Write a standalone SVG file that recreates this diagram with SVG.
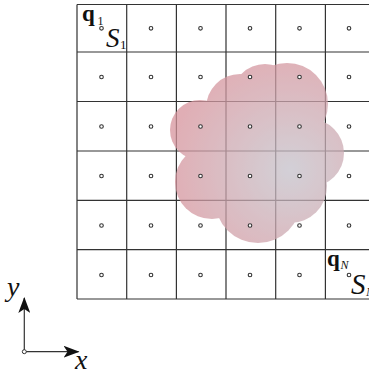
<svg xmlns="http://www.w3.org/2000/svg" width="369" height="376" viewBox="0 0 369 376">
<defs>
<style>
.grid{stroke:#333;stroke-width:1.2;fill:none}
.dot{fill:#fff;stroke:#333;stroke-width:1.1}
.lbl{font-family:"Liberation Serif",serif;fill:#111}
.b{font-weight:bold}
.i{font-style:italic}
.ax{stroke:#333;stroke-width:1.2;fill:none}
</style>
<radialGradient id="cg" gradientUnits="userSpaceOnUse" cx="290" cy="170" r="120">
<stop offset="0" stop-color="#c4c0ca"/>
<stop offset="0.3" stop-color="#c9b3bb"/>
<stop offset="1" stop-color="#d6939c"/>
</radialGradient>
<marker id="ah" viewBox="0 0 16 12" refX="15" refY="6" markerWidth="16" markerHeight="12" markerUnits="userSpaceOnUse" orient="auto">
<path d="M0,0 L16,6 L0,12 L4,6 Z" fill="#111"/>
</marker>
</defs>
<g id="grid" class="grid">
<path d="M77,4.5 H369 M77,52 H369 M77,101.5 H369 M77,151 H369 M77,200.3 H369 M77,249.6 H369 M77,299 H369"/>
<path d="M77,4.5 V299 M126.7,4.5 V299 M176.4,4.5 V299 M226,4.5 V299 M275.7,4.5 V299 M325.4,4.5 V299"/>
</g>
<g id="cloud" opacity="0.74" fill="url(#cg)">
<circle cx="265" cy="150" r="55"/>
<circle cx="287" cy="104" r="41"/>
<circle cx="265" cy="97" r="33"/>
<circle cx="240" cy="108" r="34"/>
<circle cx="200" cy="130" r="30"/>
<circle cx="212" cy="182" r="37"/>
<circle cx="258" cy="200" r="43"/>
<circle cx="290" cy="186" r="37"/>
<circle cx="310" cy="153" r="34"/>
</g>
<g id="points">
<g class="dot">
<circle cx="101.5" cy="28.3" r="1.8"/><circle cx="151" cy="28.3" r="1.8"/><circle cx="200.5" cy="28.3" r="1.8"/><circle cx="250" cy="28.3" r="1.8"/><circle cx="299.5" cy="28.3" r="1.8"/><circle cx="349" cy="28.3" r="1.8"/>
<circle cx="101.5" cy="77" r="1.8"/><circle cx="151" cy="77" r="1.8"/><circle cx="200.5" cy="77" r="1.8"/><circle cx="250" cy="77" r="1.8"/><circle cx="299.5" cy="77" r="1.8"/><circle cx="349" cy="77" r="1.8"/>
<circle cx="101.5" cy="126.5" r="1.8"/><circle cx="151" cy="126.5" r="1.8"/><circle cx="200.5" cy="126.5" r="1.8"/><circle cx="250" cy="126.5" r="1.8"/><circle cx="299.5" cy="126.5" r="1.8"/><circle cx="349" cy="126.5" r="1.8"/>
<circle cx="101.5" cy="176" r="1.8"/><circle cx="151" cy="176" r="1.8"/><circle cx="200.5" cy="176" r="1.8"/><circle cx="250" cy="176" r="1.8"/><circle cx="299.5" cy="176" r="1.8"/><circle cx="349" cy="176" r="1.8"/>
<circle cx="101.5" cy="225.5" r="1.8"/><circle cx="151" cy="225.5" r="1.8"/><circle cx="200.5" cy="225.5" r="1.8"/><circle cx="250" cy="225.5" r="1.8"/><circle cx="299.5" cy="225.5" r="1.8"/><circle cx="349" cy="225.5" r="1.8"/>
<circle cx="101.5" cy="275" r="1.8"/><circle cx="151" cy="275" r="1.8"/><circle cx="200.5" cy="275" r="1.8"/><circle cx="250" cy="275" r="1.8"/><circle cx="299.5" cy="275" r="1.8"/><circle cx="349" cy="275" r="1.8"/>
</g>
</g>
<g id="label-q1">
<text class="lbl b" x="82" y="20.5" font-size="23">q</text>
<text class="lbl" x="97.5" y="25" font-size="12">1</text>
</g>
<g id="label-S1">
<text class="lbl i" x="106" y="46.5" font-size="27">S</text>
<text class="lbl" x="120" y="49" font-size="13">1</text>
</g>
<g id="label-qN">
<text class="lbl b" x="327" y="266" font-size="23">q</text>
<text class="lbl i" x="340.5" y="268.5" font-size="12">N</text>
</g>
<g id="label-SN">
<text class="lbl i" x="351" y="293.5" font-size="29">S</text>
<text class="lbl i" x="366" y="296" font-size="13">N</text>
</g>
<g id="connectors">
<path class="ax" d="M24.3,351.7 V298" marker-end="url(#ah)"/>
<path class="ax" d="M24.3,351.7 H78.5" marker-end="url(#ah)"/>
<circle cx="24.3" cy="351.7" r="2" fill="#fff" stroke="#333" stroke-width="1"/>
</g>
<g id="axis-labels">
<text class="lbl i" x="7" y="296" font-size="28">y</text>
<text class="lbl i" x="75" y="369" font-size="28">x</text>
</g>
</svg>
